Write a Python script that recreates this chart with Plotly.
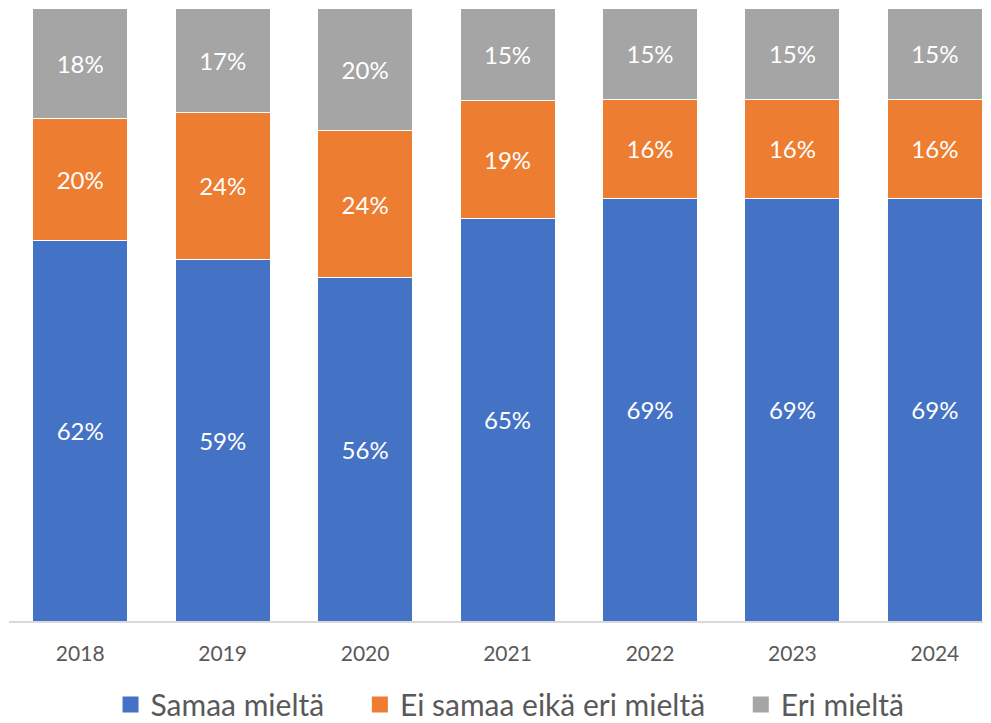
import plotly.graph_objects as go

years = ["2018", "2019", "2020", "2021", "2022", "2023", "2024"]
samaa = [62, 59, 56, 65, 69, 69, 69]
ei_samaa = [20, 24, 24, 19, 16, 16, 16]
eri = [18, 17, 20, 15, 15, 15, 15]

series = [
    ("Samaa mieltä", samaa, "#4472C4"),
    ("Ei samaa eikä eri mieltä", ei_samaa, "#ED7D31"),
    ("Eri mieltä", eri, "#A5A5A5"),
]

fig = go.Figure()
for name, vals, col in series:
    fig.add_trace(go.Bar(
        x=years, y=vals, name=name, showlegend=False,
        marker=dict(color=col, line=dict(color="#FFFFFF", width=1)),
        text=[f"{v}%" for v in vals],
        textposition="inside", insidetextanchor="middle",
        textfont=dict(color="#FFFFFF", size=24, family="Lato"),
        hoverinfo="skip",
    ))
for name, vals, col in series:
    fig.add_trace(go.Scatter(
        x=[None], y=[None], mode="markers", name=name + "\u00a0" * 4,
        marker=dict(symbol="square", size=16, color=col),
        hoverinfo="skip",
    ))

fig.update_layout(
    barmode="stack", barnorm="percent", bargap=0.333,
    width=983, height=715,
    margin=dict(l=1, r=0, t=0, b=102),
    paper_bgcolor="#FFFFFF", plot_bgcolor="#FFFFFF",
    font=dict(family="Lato", color="#595959"),
    showlegend=True,
    legend=dict(orientation="h", x=0.526, xanchor="center", yref="container",
                y=0.026, yanchor="middle",
                font=dict(size=30, color="#595959"), traceorder="normal"),
    uniformtext=dict(mode="show", minsize=10),
)
fig.update_xaxes(type="category", range=[-0.5, 6.394], showline=True, linecolor="#D9D9D9",
                 linewidth=1.5, ticks="", tickfont=dict(size=21, color="#595959"),
                 ticklabelstandoff=13, showgrid=False, fixedrange=True)
fig.update_yaxes(range=[0, 100], visible=False, showgrid=False, zeroline=False, fixedrange=True)

fig.write_html("out.html")
